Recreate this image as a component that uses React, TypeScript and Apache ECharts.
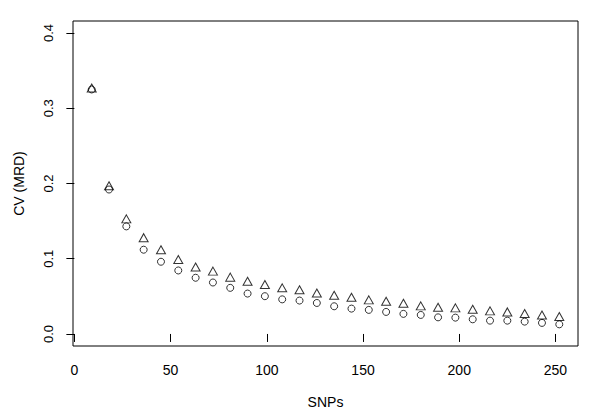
import React, { useEffect, useRef } from "react";
import * as echarts from "echarts";

const snps = [9, 18, 27, 36, 45, 54, 63, 72, 81, 90, 99, 108, 117, 126, 135, 144, 153, 162, 171, 180, 189, 198, 207, 216, 225, 234, 243, 252];
const cvTriangle = [0.327, 0.197, 0.153, 0.128, 0.112, 0.099, 0.089, 0.0835, 0.0755, 0.070, 0.0657, 0.0613, 0.0587, 0.0545, 0.0515, 0.0488, 0.0453, 0.0435, 0.0408, 0.0373, 0.0355, 0.0347, 0.0328, 0.0307, 0.0293, 0.0271, 0.0253, 0.0231];
const cvCircle = [0.325, 0.192, 0.143, 0.112, 0.096, 0.0844, 0.0747, 0.0684, 0.0613, 0.0537, 0.0502, 0.046, 0.0444, 0.0412, 0.0368, 0.0337, 0.032, 0.0293, 0.0267, 0.0253, 0.0221, 0.0217, 0.0195, 0.0177, 0.0177, 0.0164, 0.0147, 0.0128];
const xTicks = [0, 50, 100, 150, 200, 250];
const yTicks = [0, 0.1, 0.2, 0.3, 0.4];

const FONT = "Liberation Sans";

export default function App() {
  const ref = useRef<HTMLDivElement>(null);
  useEffect(() => {
    document.body.style.margin = "0";
    const chart = echarts.init(ref.current!, null, { renderer: "svg" });
    const xPad = (252 - 9) * 0.04;
    const yPad = 0.4 * 0.04;
    chart.setOption({
      animation: false,
      backgroundColor: "#ffffff",
      grid: {
        left: 73,
        right: 22,
        top: 21,
        bottom: 73,
        show: true,
        borderColor: "#000",
        borderWidth: 1,
        backgroundColor: "transparent",
      },
      xAxis: {
        type: "value",
        min: 9 - xPad,
        max: 252 + xPad,
        name: "SNPs",
        nameLocation: "middle",
        nameGap: 49,
        nameTextStyle: { fontFamily: FONT, fontSize: 14, color: "#000" },
        axisLine: { show: false },
        splitLine: { show: false },
        axisTick: {
          show: true,
          inside: false,
          length: 8,
          customValues: xTicks,
          lineStyle: { color: "#000", width: 1 },
        },
        axisLabel: {
          customValues: xTicks,
          margin: 17,
          fontFamily: FONT,
          fontSize: 14,
          color: "#000",
        },
      },
      yAxis: {
        type: "value",
        min: -yPad,
        max: 0.4 + yPad,
        name: "CV (MRD)",
        nameLocation: "middle",
        nameGap: 47,
        nameRotate: 90,
        nameTextStyle: { fontFamily: FONT, fontSize: 14, color: "#000" },
        axisLine: { show: false },
        splitLine: { show: false },
        axisTick: {
          show: true,
          inside: false,
          length: 8,
          customValues: yTicks,
          lineStyle: { color: "#000", width: 1 },
        },
        axisLabel: {
          customValues: yTicks,
          rotate: 90,
          margin: 18,
          fontFamily: FONT,
          fontSize: 13,
          color: "#000",
          formatter: (v: number) => v.toFixed(1),
        },
      },
      series: [
        {
          type: "scatter",
          data: snps.map((x, i) => [x, cvTriangle[i]]),
          symbol: "triangle",
          symbolSize: [9, 8],
          itemStyle: { color: "transparent", borderColor: "#000", borderWidth: 1 },
        },
        {
          type: "scatter",
          data: snps.map((x, i) => [x, cvCircle[i]]),
          symbol: "circle",
          symbolSize: 7,
          itemStyle: { color: "transparent", borderColor: "#000", borderWidth: 1 },
        },
      ],
    });
    return () => chart.dispose();
  }, []);
  return <div ref={ref} style={{ width: 600, height: 419 }} />;
}
